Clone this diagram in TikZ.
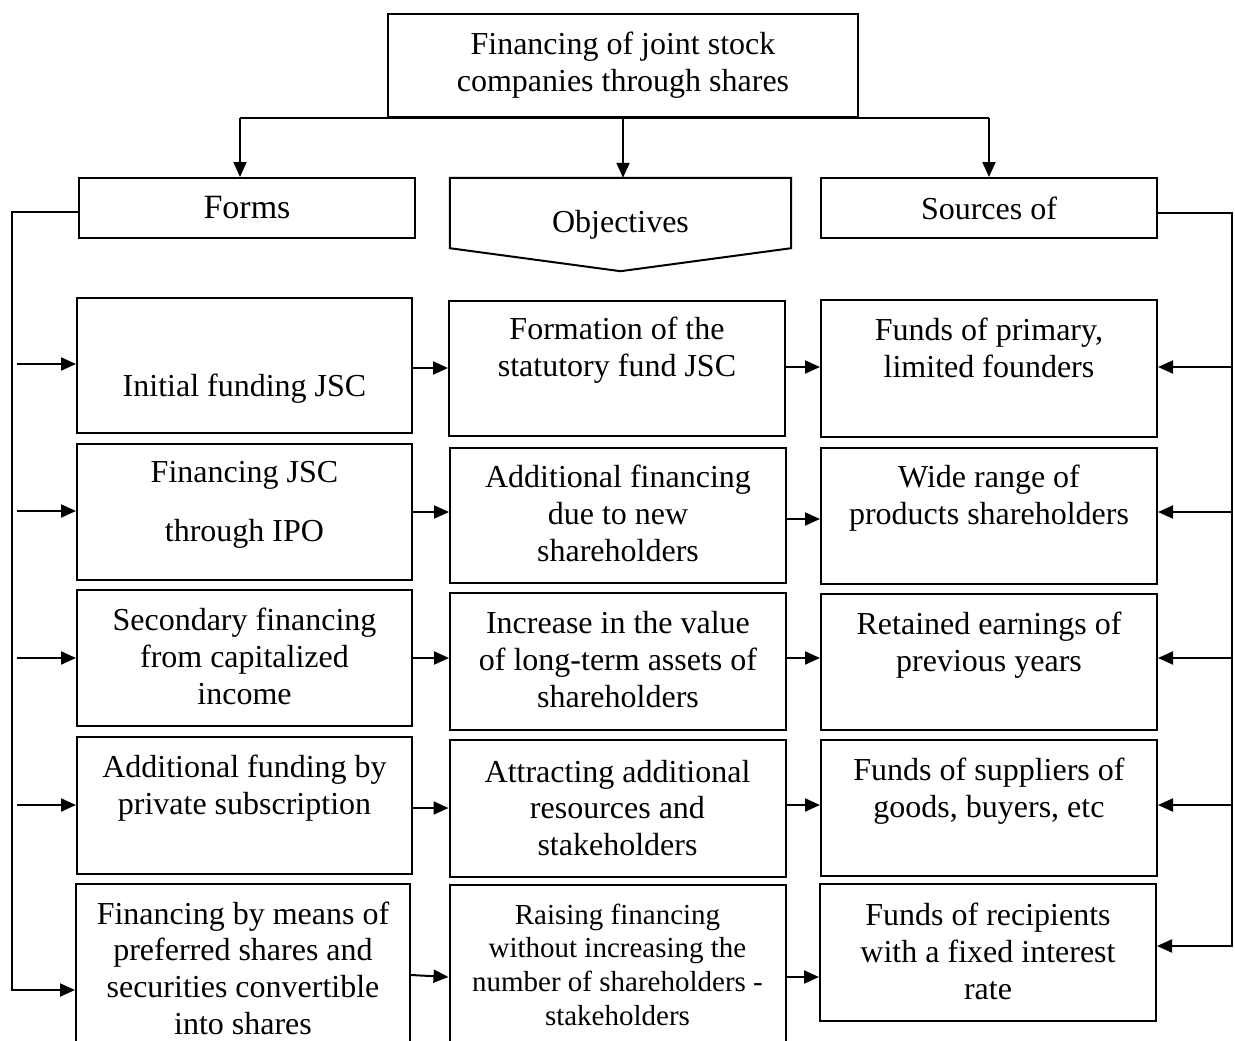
\documentclass[tikz,border=0pt]{standalone}
\usepackage{fontspec}
\setmainfont{Liberation Serif}
\usetikzlibrary{arrows.meta}
\begin{document}
\begin{tikzpicture}[x=1pt,y=-1pt,
  box/.style={draw, line width=2pt, inner sep=0pt},
  cell/.style={box, minimum width=336pt, minimum height=136pt},
  txt/.style={align=center, inner sep=0pt, anchor=north,
              font=\fontsize{32}{36.7}\selectfont},
  small/.style={txt, font=\fontsize{29}{33.8}\selectfont},
  wire/.style={line width=2pt},
  arr/.style={line width=2pt, -{Triangle[length=15pt,width=13pt]}}]
\clip (0,0) rectangle (1235,1041);

% heading and the three category boxes
\node[box, minimum width=470pt, minimum height=103pt, align=center,
      font=\fontsize{32}{37}\selectfont] (top) at (623,65.5)
      {Financing of joint stock\\companies through shares};
\node[box, minimum width=336pt, minimum height=60pt,
      font=\fontsize{34}{40}\selectfont] (forms) at (247,208) {Forms};
\node[box, minimum width=336pt, minimum height=60pt,
      font=\fontsize{32}{37}\selectfont] (sources) at (989,208) {Sources of};
\node[minimum width=341pt, minimum height=93pt, inner sep=0pt,
      font=\fontsize{32}{37}\selectfont] (obj) at (620.5,224.5) {Objectives};
\draw[line width=2pt, line join=miter]
  (obj.north west) -- (obj.north east) -- ([yshift=23pt]obj.south east)
  -- (obj.south) -- ([yshift=23pt]obj.south west) -- cycle;

% left column: forms
\node[cell, minimum width=335pt, minimum height=135pt] (f1) at (244.5,365.5) {};
\node[cell, minimum width=335pt] (f2) at (244.5,512) {};
\node[cell, minimum width=335pt] (f3) at (244.5,658) {};
\node[cell, minimum width=335pt, minimum height=137pt] (f4) at (244.5,805.5) {};
\node[cell, minimum width=334pt, minimum height=176pt] (f5) at (243,972) {};

% middle column: objectives
\node[cell, minimum height=135pt] (m1) at (617,368.5) {};
\node[cell, minimum height=135pt] (m2) at (618,515.5) {};
\node[cell, minimum height=137pt] (m3) at (618,661.5) {};
\node[cell, minimum height=137pt] (m4) at (617.5,808.5) {};
\node[cell, minimum height=175pt] (m5) at (617.5,972.5) {};

% right column: sources
\node[cell, minimum height=137pt] (s1) at (989,368.5) {};
\node[cell] (s2) at (989,516) {};
\node[cell] (s3) at (989,662) {};
\node[cell] (s4) at (989,808) {};
\node[cell, minimum height=137pt] (s5) at (988,952.5) {};

% texts of the cells
\node[txt] (tf1) at (244.5,374) {Initial funding JSC};
\node[txt] (tf2) at (244.5,461) {Financing JSC\\[22.3pt]through IPO};
\node[txt] (tf3) at (244.5,608) {Secondary financing\\from capitalized\\income};
\node[txt] (tf4) at (244.5,755) {Additional funding by\\private subscription};
\node[txt] (tf5) at (243,901.4) {Financing by means of\\preferred shares and\\securities convertible\\into shares};

\node[txt] (tm1) at (617,317) {Formation of the\\statutory fund JSC};
\node[txt] (tm2) at (618,465) {Additional financing\\due to new\\shareholders};
\node[txt] (tm3) at (618,611.4) {Increase in the value\\of long-term assets of\\shareholders};
\node[txt] (tm4) at (617.5,759.7) {Attracting additional\\resources and\\stakeholders};
\node[small] (tm5) at (617.5,903.5) {Raising financing\\without increasing the\\number of shareholders -\\stakeholders};

\node[txt] (ts1) at (989,318) {Funds of primary,\\limited founders};
\node[txt] (ts2) at (989,465) {Wide range of\\products shareholders};
\node[txt] (ts3) at (989,612) {Retained earnings of\\previous years};
\node[txt] (ts4) at (989,758) {Funds of suppliers of\\goods, buyers, etc};
\node[txt] (ts5) at (988,903) {Funds of recipients\\with a fixed interest\\rate};

% heading to categories
\draw[wire] ([xshift=-7pt]forms.north |- top.south) -- (sources.north |- top.south);
\draw[arr] ([xshift=-7pt]forms.north |- top.south) -- ([xshift=-7pt]forms.north);
\draw[arr] (top.south) -- (top.south |- obj.north);
\draw[arr] (sources.north |- top.south) -- (sources.north);

% left feed line into the forms
\coordinate (l1) at (17,364);
\coordinate (l2) at (17,511);
\coordinate (l3) at (17,658);
\coordinate (l4) at (17,805);
\draw[arr] (forms.west |- 0,212) -- (12,212) -- (12,990) -- (f5.west |- 0,990);
\draw[arr] (l1) -- (f1.west |- l1);
\draw[arr] (l2) -- (f2.west |- l2);
\draw[arr] (l3) -- (f3.west |- l3);
\draw[arr] (l4) -- (f4.west |- l4);

% right feed line into the sources
\draw[arr] (sources.east |- 0,213) -- (1232,213) -- (1232,946) -- (s5.east |- 0,946);
\draw[arr] (1232,367) -- (s1.east |- 0,367);
\draw[arr] (1232,512) -- (s2.east |- 0,512);
\draw[arr] (1232,658) -- (s3.east |- 0,658);
\draw[arr] (1232,805) -- (s4.east |- 0,805);

% forms to objectives
\draw[arr] (f1.east |- 0,368) -- (m1.west |- 0,368);
\draw[arr] (f2.east |- 0,512) -- (m2.west |- 0,512);
\draw[arr] (f3.east |- 0,658) -- (m3.west |- 0,658);
\draw[arr] (f4.east |- 0,808) -- (m4.west |- 0,808);
\draw[arr] (f5.east |- 0,975) -- (m5.west |- 0,977);

% objectives to sources
\draw[arr] (m1.east |- 0,367) -- (s1.west |- 0,367);
\draw[arr] (m2.east |- 0,519) -- (s2.west |- 0,519);
\draw[arr] (m3.east |- 0,658) -- (s3.west |- 0,658);
\draw[arr] (m4.east |- 0,805) -- (s4.west |- 0,805);
\draw[arr] (m5.east |- 0,977) -- (s5.west |- 0,977);
\end{tikzpicture}
\end{document}
